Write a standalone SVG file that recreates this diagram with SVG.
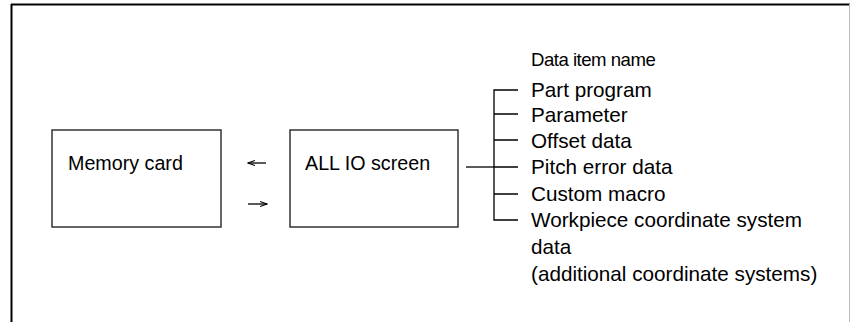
<svg xmlns="http://www.w3.org/2000/svg" width="850" height="322" viewBox="0 0 850 322">
<style>
text{font-family:"Liberation Sans",Arial,sans-serif;font-size:20.7px;fill:#000}
.bx{font-size:19.7px}
.hd{font-size:18.6px;letter-spacing:-0.5px}
.box{fill:#fff;stroke:#333;stroke-width:1.5}
.ln{stroke:#000;stroke-width:1.3;fill:none}
</style>
<defs>
<marker id="ah" markerWidth="8" markerHeight="6" refX="7" refY="3" orient="auto" markerUnits="userSpaceOnUse">
<path d="M0,0.5 L7,3 L0,5.5" fill="none" stroke="#000" stroke-width="1.1"/>
</marker>
</defs>
<rect width="850" height="322" fill="#fff"/>
<g id="frame">
<line x1="11" y1="4.5" x2="850" y2="4.5" stroke="#000" stroke-width="2"/>
<line x1="11.5" y1="4" x2="11.5" y2="322" stroke="#000" stroke-width="2"/>
<line x1="849.5" y1="4" x2="849.5" y2="322" stroke="#bbb" stroke-width="1"/>
</g>
<g id="memory-card">
<rect class="box" x="52" y="130" width="169" height="97"/>
<text class="bx" x="68" y="170">Memory card</text>
</g>
<g id="all-io-screen">
<rect class="box" x="290" y="130" width="168" height="97"/>
<text class="bx" x="305" y="170">ALL IO screen</text>
</g>
<g id="data-items">
<text class="hd" x="531" y="66">Data item name</text>
<text x="531" y="97">Part program</text>
<text x="531" y="122">Parameter</text>
<text x="531" y="148">Offset data</text>
<text x="531" y="174">Pitch error data</text>
<text x="531" y="201">Custom macro</text>
<text x="531" y="227">Workpiece coordinate system</text>
<text x="531" y="254">data</text>
<text x="531" y="281">(additional coordinate systems)</text>
</g>
<g id="connectors">
<path class="ln" d="M266,163 H248" marker-end="url(#ah)"/>
<path class="ln" d="M248,204 H267" marker-end="url(#ah)"/>
<path class="ln" d="M466,167 H494"/>
<path class="ln" d="M518,90 H494 V220 H518"/>
<path class="ln" d="M494,114 H518 M494,140 H518 M494,167 H518 M494,194 H518"/>
</g>
</svg>
